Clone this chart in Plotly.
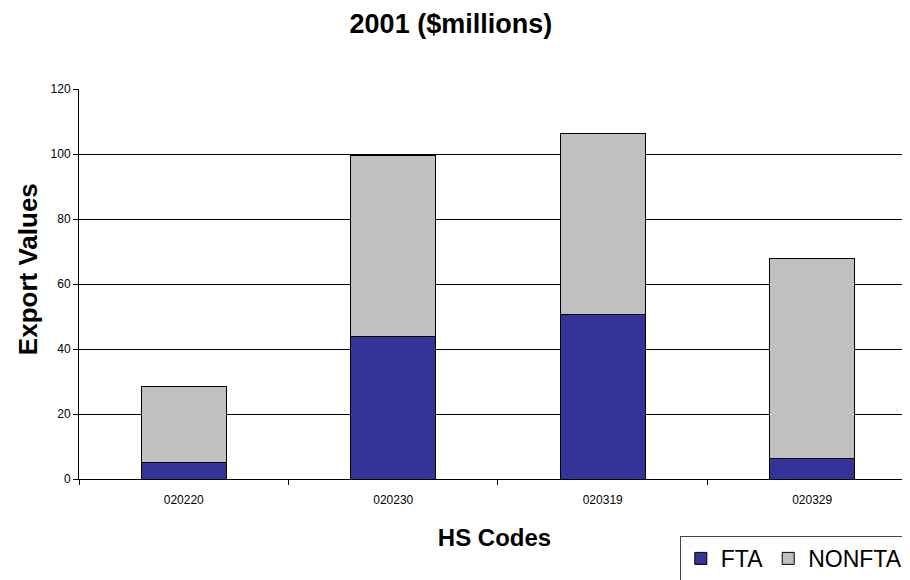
import plotly.graph_objects as go

# HS codes and export values (2001, $millions)
hs_codes = ["020220", "020230", "020319", "020329"]
fta = [5.1, 44.0, 50.7, 6.3]
nonfta = [23.4, 55.4, 55.5, 61.7]
y_ticks = [0, 20, 40, 60, 80, 100, 120]

font_family = "Arial, Liberation Sans, sans-serif"

fig = go.Figure()
fig.add_trace(go.Bar(
    x=hs_codes, y=fta, name="FTA",
    marker=dict(color="#333399", line=dict(color="black", width=1)),
))
fig.add_trace(go.Bar(
    x=hs_codes, y=nonfta, name="NONFTA",
    marker=dict(color="#C0C0C0", line=dict(color="black", width=1)),
))

# page body adds an 8px offset, so the figure is sized to the visible area
fig.update_layout(
    barmode="stack",
    bargap=0.594,
    width=902, height=572,
    margin=dict(l=71, r=0, t=81, b=101, autoexpand=False),
    paper_bgcolor="white",
    plot_bgcolor="white",
    font=dict(family=font_family, color="black"),
    title=dict(
        text="<b>2001 ($millions)</b>",
        x=0.491, xanchor="center",
        y=0.973, yanchor="middle",
        font=dict(size=27, color="black"),
    ),
    legend=dict(
        orientation="h",
        x=0.723, xanchor="left",
        y=-0.146, yanchor="top",
        bordercolor="#444", borderwidth=1,
        font=dict(size=23, color="black"),
        itemwidth=30,
        traceorder="normal",
    ),
    annotations=[dict(
        text="<b>Export Values</b>",
        xref="paper", yref="paper",
        x=-0.0614, y=0.538,
        xanchor="center", yanchor="middle",
        textangle=-90, showarrow=False,
        font=dict(size=26, color="black"),
    )],
)

fig.update_xaxes(
    range=[-0.5, 3.467],
    automargin=False,
    showline=True, linecolor="black", linewidth=1,
    ticks="outside", tickson="boundaries", ticklen=5, tickcolor="black",
    ticklabelstandoff=10,
    tickfont=dict(size=12, color="black"),
    title=dict(text="<b>HS Codes</b>", font=dict(size=24, color="black"), standoff=22),
    showgrid=False,
)
fig.update_yaxes(
    range=[0, 120],
    automargin=False,
    tickvals=y_ticks,
    showline=True, linecolor="black", linewidth=1,
    ticks="outside", ticklen=5, tickcolor="black",
    tickfont=dict(size=12, color="black"),
    showgrid=True, gridcolor="black", gridwidth=1,
    zeroline=True, zerolinecolor="black", zerolinewidth=1,
)

fig.write_html("out.html")
